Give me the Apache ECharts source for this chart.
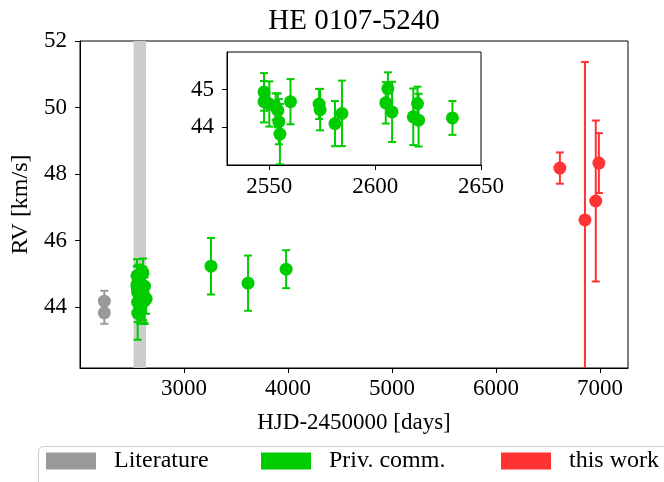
<!DOCTYPE html>
<html>
<head>
<meta charset="utf-8">
<script src="https://cdn.jsdelivr.net/npm/echarts@6/dist/echarts.min.js"></script>
<style>
  html, body { margin: 0; padding: 0; overflow: hidden; background: #fff; }
  #main { width: 708px; height: 482px; }
</style>
</head>
<body>
<div id="main"></div>
<script>
// literature values
var litDays = [2234, 2234];
var litRV = [44.18, 43.83];
var litErr = [0.31, 0.33];

// private communication
var privDays = [2547.5, 2547.5, 2550, 2553, 2554, 2554.5, 2555, 2560,
                2573.5, 2574, 2581, 2584.3, 2605, 2606, 2608,
                2618, 2620, 2620.5, 2636.5, 3260, 3616, 3982];
var privRV = [44.94, 44.68, 44.62, 44.55, 44.45, 44.15, 43.82, 44.68,
              44.62, 44.47, 44.10, 44.37, 44.65, 45.03, 44.41,
              44.28, 44.63, 44.19, 44.25, 45.23, 44.72, 45.14];
var privErr = [0.5, 0.55, 0.6, 0.35, 0.45, 0.6, 0.8, 0.6,
               0.4, 0.55, 0.6, 0.87, 0.55, 0.43, 0.8,
               0.75, 0.45, 0.7, 0.45, 0.85, 0.83, 0.57];

// this work
var workDays = [6615, 6856, 6960, 6990];
var workRV = [48.18, 46.62, 47.19, 48.33];
var workErr = [0.47, 4.75, 2.42, 0.9];

var bandDays = [2515, 2635];

var mainTicksX = [3000, 4000, 5000, 6000, 7000];
var mainTicksY = [44, 46, 48, 50, 52];
var insetTicksX = [2550, 2600, 2650];
var insetTicksY = [44, 45];

var seriesNames = ['Literature', 'Priv. comm.', 'this work'];

var font = 'Liberation Serif';
var grey = '#999999', green = '#00cc00', red = '#ff3333';
var colors = [grey, green, red];
var legendLeft = [46, 261, 501];

function rows(xs, ys, es) {
    return xs.map(function (x, i) { return [x, ys[i], es[i]]; });
}

// error bars with caps
function errBars(color) {
    return function (params, api) {
        var x = api.value(0), y = api.value(1), e = api.value(2);
        var lo = api.coord([x, y - e]);
        var hi = api.coord([x, y + e]);
        var cx = lo[0], cap = 4;
        var st = { stroke: color, lineWidth: 2 };
        return {
            type: 'group',
            children: [
                { type: 'line', shape: { x1: cx, y1: lo[1], x2: cx, y2: hi[1] }, style: st },
                { type: 'line', shape: { x1: cx - cap, y1: lo[1], x2: cx + cap, y2: lo[1] }, style: st },
                { type: 'line', shape: { x1: cx - cap, y1: hi[1], x2: cx + cap, y2: hi[1] }, style: st }
            ]
        };
    };
}

function group(name, color, data, gi) {
    return [{
        name: name, type: 'custom', xAxisIndex: gi, yAxisIndex: gi,
        renderItem: errBars(color), data: data, clip: true, z: 3,
        encode: { x: 0, y: 1 }
    }, {
        name: name, type: 'scatter', xAxisIndex: gi, yAxisIndex: gi,
        data: data, symbolSize: 13, clip: true, z: 4,
        itemStyle: { color: color, opacity: 1 }
    }];
}

function valAxis(gi, min, max, ticks, margin, extra) {
    var a = {
        type: 'value', gridIndex: gi, min: min, max: max,
        axisLine: { show: true, lineStyle: { color: '#000', width: 1 } },
        axisTick: { show: true, customValues: ticks, length: 5, lineStyle: { color: '#000' } },
        axisLabel: {
            customValues: ticks, color: '#000', fontSize: 23, fontFamily: font, margin: margin,
            formatter: function (v) { return String(v); }
        },
        splitLine: { show: false }
    };
    return Object.assign(a, extra || {});
}

var lit = rows(litDays, litRV, litErr);
var priv = rows(privDays, privRV, privErr);
var work = rows(workDays, workRV, workErr);

// one legend per entry so each sits where the reference has it
var legends = seriesNames.map(function (name, i) {
    return {
        left: legendLeft[i], top: 449, padding: 0,
        itemWidth: 50, itemHeight: 17,
        textStyle: { fontFamily: font, fontSize: 24, color: '#000', padding: [0, 0, 0, 13] },
        data: [{ name: name, icon: 'rect', itemStyle: { color: colors[i] } }]
    };
});

var chart = echarts.init(document.getElementById('main'));
chart.setOption({
    animation: false,
    title: {
        text: 'HE 0107-5240', left: 'center', top: 2,
        textStyle: { fontFamily: font, fontWeight: 'normal', fontSize: 29, color: '#000' }
    },
    graphic: [{
        type: 'rect', left: 38, top: 446, z: -1, silent: true,
        shape: { width: 660, height: 60, r: 5 },
        style: { fill: '#fff', stroke: '#cccccc', lineWidth: 1 }
    }],
    grid: [
        { left: 80, top: 41, width: 548, height: 327, show: true, borderColor: '#000', borderWidth: 1, backgroundColor: '#fff' },
        { left: 227, top: 52, width: 254, height: 113, show: true, borderColor: '#000', borderWidth: 1, backgroundColor: '#fff' }
    ],
    xAxis: [
        valAxis(0, 2000, 7270, mainTicksX, 9, {
            name: 'HJD-2450000 [days]', nameLocation: 'middle', nameGap: 43,
            nameTextStyle: { fontFamily: font, fontSize: 23, color: '#000' }
        }),
        valAxis(1, 2530, 2650, insetTicksX, 10)
    ],
    yAxis: [
        valAxis(0, 42.17, 52, mainTicksY, 13, {
            name: 'RV [km/s]', nameLocation: 'middle', nameGap: 47,
            nameTextStyle: { fontFamily: font, fontSize: 24, color: '#000' }
        }),
        valAxis(1, 43, 46, insetTicksY, 13)
    ],
    legend: legends,
    series: [].concat(
        [{
            type: 'line', xAxisIndex: 0, yAxisIndex: 0, data: [], z: 1, silent: true,
            markArea: {
                silent: true,
                itemStyle: { color: '#cccccc' },
                data: [[{ xAxis: bandDays[0] }, { xAxis: bandDays[1] }]]
            }
        }],
        group(seriesNames[0], grey, lit, 0),
        group(seriesNames[1], green, priv, 0),
        group(seriesNames[2], red, work, 0),
        group(seriesNames[1], green, priv, 1)
    )
});
</script>
</body>
</html>
